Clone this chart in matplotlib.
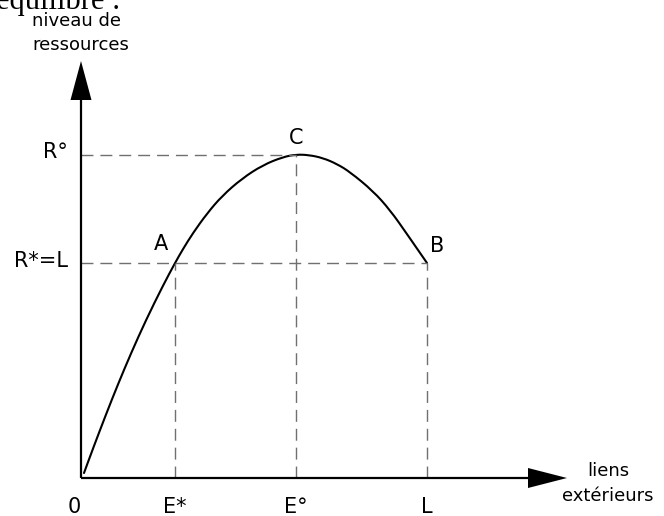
import numpy as np
import matplotlib.pyplot as plt
from matplotlib.path import Path
from matplotlib.patches import PathPatch

plt.rcParams['lines.scale_dashes'] = False

# key levels (pixel-like units from the origin)
e_star = 94
e_circ = 215
l_val = 346
r_star = 215
r_circ = 323.5

# curve
curve_x = [3, 12, 25, 37, 50, 65, 82, 94, 102, 112, 126, 141, 161, 182, 202,
           215, 228, 242, 256, 269, 292, 309, 326, 346]
curve_y = [5, 29.5, 63.6, 93.8, 124.7, 158, 192.5, 215, 229, 245, 264.5, 282,
           299.5, 313, 321, 323.5, 323, 320, 314, 306, 287, 268, 244, 215]

x_ticks = [0, e_star, e_circ, l_val]
x_labels = ['0', 'E*', 'E°', 'L']

fig = plt.figure(figsize=(6.64, 5.16), dpi=100)
ax = fig.add_axes([0, 0, 1, 1])
ax.set_xlim(-81, 583)
ax.set_ylim(-38, 478)
ax.axis('off')

dash = dict(color='#707070', lw=1.0, dashes=(8.6, 5.0))

# guide lines
ax.plot([0, e_circ], [r_circ, r_circ], **dash)
ax.plot([0, l_val], [r_star, r_star], **dash)
ax.plot([e_star, e_star], [0, r_star], **dash)
ax.plot([e_circ, e_circ], [0, r_circ], **dash)
ax.plot([l_val, l_val], [0, r_star], **dash)

# curve, drawn as a smooth path through the read points
pts = np.column_stack([curve_x, curve_y])
verts = [pts[0]]
codes = [Path.MOVETO]
verts.append((pts[0] + pts[1]) / 2)
codes.append(Path.LINETO)
for i in range(1, len(pts) - 1):
    verts.append(pts[i])
    verts.append((pts[i] + pts[i + 1]) / 2 if i < len(pts) - 2 else pts[-1])
    codes += [Path.CURVE3, Path.CURVE3]
ax.add_patch(PathPatch(Path(verts, codes), fill=False, edgecolor='black',
                       lw=1.5, capstyle='round'))

# axes with arrows
ax.plot([0, 0], [0, 380], color='black', lw=1.6, solid_capstyle='butt')
ax.plot([0, 449], [0, 0], color='black', lw=1.6, solid_capstyle='butt')
ax.fill([-10.5, 10.5, 0], [378, 378, 417], color='black', lw=0)
ax.fill([447, 447, 486], [-10, 10, 0], color='black', lw=0)

fs = 15
font = 'DejaVu Sans'

for x, lab in zip(x_ticks, x_labels):
    ax.text(x - 7 if lab == '0' else x, -29, lab, ha='center', va='center',
            fontsize=fs, family=font)

ax.text(-13, r_circ + 2, 'R°', ha='right', va='center', fontsize=fs, family=font)
ax.text(-13, r_star + 2, 'R*=L', ha='right', va='center', fontsize=fs, family=font)

ax.text(e_star - 14, r_star + 19, 'A', ha='center', va='center', fontsize=fs, family=font)
ax.text(e_circ, r_circ + 17, 'C', ha='center', va='center', fontsize=fs, family=font)
ax.text(l_val + 10, r_star + 17, 'B', ha='center', va='center', fontsize=fs, family=font)

sfs = 13
ax.text(-4, 457, 'niveau de', ha='center', va='center', fontsize=sfs, family=font)
ax.text(0, 433, 'ressources', ha='center', va='center', fontsize=sfs, family=font)
ax.text(527, 7, 'liens', ha='center', va='center', fontsize=sfs, family=font)
ax.text(527, -18, 'extérieurs', ha='center', va='center', fontsize=sfs, family=font)

ax.text(-85, 469, 'équilibre :', ha='left', va='baseline', fontsize=22,
        family='Liberation Serif')

fig.savefig('out.png', dpi=100)
